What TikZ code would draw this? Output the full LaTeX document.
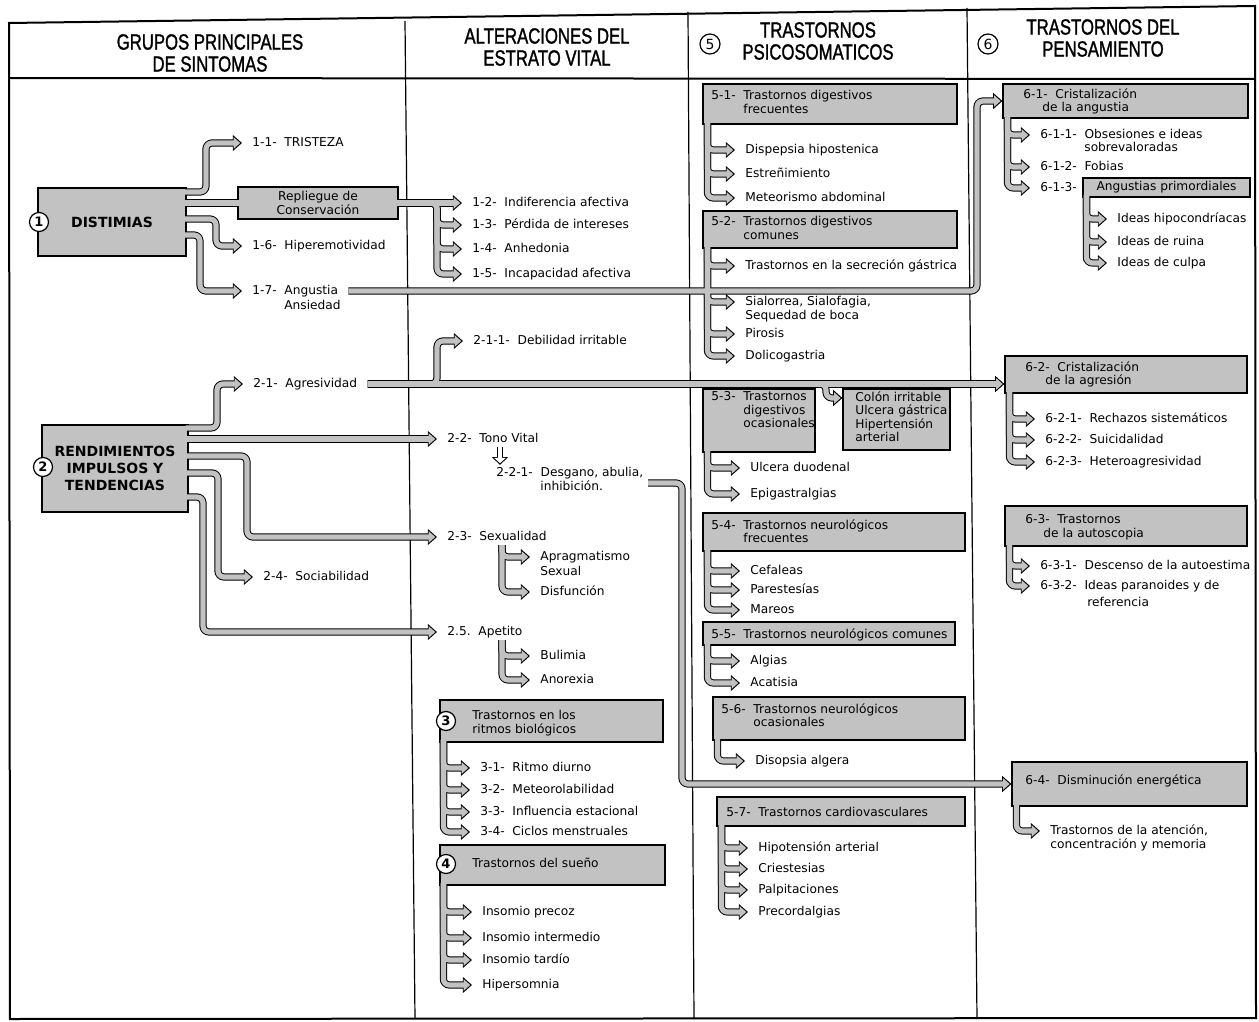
\documentclass[tikz,border=0pt]{standalone}
\usepackage{fontspec}
\setmainfont{DejaVu Sans}
\newfontfamily\hdfont{Liberation Sans}[FakeStretch=0.76,FakeBold=1.3]
\usetikzlibrary{arrows.meta,calc,fit}
\pgfdeclarelayer{back}
\pgfdeclarelayer{front}
\pgfsetlayers{back,main,front}
\definecolor{fillc}{gray}{0.76}
\newcommand\itemfont{\fontsize{6.1}{6.8}\selectfont}
\newcommand\headfont{\hdfont\fontsize{11}{11}\selectfont}
\newcommand\bigfont{\bfseries\fontsize{7}{8.5}\selectfont}
\newcommand\circfont{\bfseries\fontsize{6.5}{7}\selectfont}
\tikzset{
  item/.style={anchor=west, inner xsep=5pt, inner ysep=1pt, font=\itemfont, text height=4.6pt, text depth=1.2pt},
  plain/.style={anchor=west, inner sep=0pt, font=\itemfont, text height=4.6pt, text depth=1.2pt},
  lbl/.style={anchor=north west, inner sep=0pt, align=left, font=\itemfont},
  clbl/.style={inner sep=0pt, align=center},
  box/.style={draw=black, line width=0.6pt, fill=fillc, inner sep=0pt},
  circ/.style={circle, draw=black, line width=0.6pt, fill=white, minimum size=9.5pt, inner sep=0pt, font=\circfont},
  hcirc/.style={circ, minimum size=10pt, font=\fontsize{7}{8}\selectfont},
  head/.style={align=center, inner sep=0pt, font=\headfont},
  frameline/.style={line width=1pt, line cap=round},
  divline/.style={line width=0.6pt},
  outerpass/.style={
    fa/.style={draw=black, line width=3.6pt, rounded corners=3pt, -{Triangle[width=7.8pt,length=4.6pt]}},
    fl/.style={draw=black, line width=3.6pt, rounded corners=3pt},
    ha/.style={draw=black, line width=3.4pt, -{Triangle[width=7.8pt,length=3.8pt]}}},
  innerpass/.style={
    fa/.style={draw=fillc, line width=2.6pt, rounded corners=3pt, shorten >=0.85pt, -{Triangle[width=5.6pt,length=3.3pt]}},
    fl/.style={draw=fillc, line width=2.6pt, rounded corners=3pt},
    ha/.style={draw=white, line width=2.4pt, shorten >=0.8pt, -{Triangle[width=5.8pt,length=2.7pt]}}},
}
\newcommand\connectors{%
  % DISTIMIAS
  \draw[fa] ($(dist.east|-0,192)+(-3,0)$) -| (206,0|-t11.west) -- (t11.west);
  \draw[fl] ($(dist.east|-rep.west)+(-3,0)$) -- ($(rep.west)+(3,0)$);
  \draw[fa] ($(dist.east|-0,219)+(-3,0)$) -| (216,0|-i16.west) -- (i16.west);
  \draw[fa] ($(dist.east|-0,235)+(-3,0)$) -| (200,0|-i17.west) -- (i17.west);
  % Repliegue
  \draw[fa] ($(rep.east)+(-3,0)$) -- (t12.west);
  \foreach \n in {i13,i14,i15}{\draw[fa] ($(rep.east)+(-3,0)$) -| (437,0|-\n.west) -- (\n.west);}
  % long shafts
  \draw[fa] (i17.east) -| (977,0|-b61.west) -- (b61.west);
  \draw[fa] (i21.east) -- (b62.west|-i21.east);
  \draw[fa] (i21.east) -| (437,0|-i211.west) -- (i211.west);
  \draw[fa] (i21.east) -| (826,398) -- (colon.west|-0,398);
  \draw[fa] (s221) -| (682,0|-b64.west) -- (b64.west);
  % RENDIMIENTOS
  \draw[fa] ($(rend.east|-0,428)+(-3,0)$) -| (217,0|-i21.west) -- (i21.west);
  \draw[fa] ($(rend.east|-i22.west)+(-3,0)$) -- (i22.west);
  \draw[fa] ($(rend.east|-0,456)+(-3,0)$) -| (247,0|-i23.west) -- (i23.west);
  \draw[fa] ($(rend.east|-0,473)+(-3,0)$) -| (218,0|-i24.west) -- (i24.west);
  \draw[fa] ($(rend.east|-0,497)+(-3,0)$) -| (203,0|-i25.west) -- (i25.west);
  \draw[ha] (500,0|-i22.south) -- (500,0|-i221.north);
  \foreach \n in {i231,i232}{\draw[fa] (502,0|-i23.south) |- (\n.west);}
  \foreach \n in {i251,i252}{\draw[fa] (502,0|-i25.south) |- (\n.west);}
  % boxes 3 and 4
  \foreach \n in {i31,i32,i33,i34}{\draw[fa] ($(b3.south west)+(4,-3)$) |- (\n.west);}
  \foreach \n in {i41,i42,i43,i44}{\draw[fa] ($(b4.south west)+(4,-3)$) |- (\n.west);}
  % column 5
  \foreach \n in {i511,i512,i513}{\draw[fa] ($(b51.south west)+(5,-3)$) |- (\n.west);}
  \foreach \n in {i521,i522,i523,i524}{\draw[fa] ($(b52.south west)+(5,-3)$) |- (\n.west);}
  \foreach \n in {i531,i532}{\draw[fa] ($(b53.south west)+(5,-3)$) |- (\n.west);}
  \foreach \n in {i541,i542,i543}{\draw[fa] ($(b54.south west)+(5,-3)$) |- (\n.west);}
  \foreach \n in {i551,i552}{\draw[fa] ($(b55.south west)+(5,-3)$) |- (\n.west);}
  \draw[fa] ($(b56.south west)+(5,-3)$) |- (i561.west);
  \foreach \n in {i571,i572,i573,i574}{\draw[fa] ($(b57.south west)+(5,-3)$) |- (\n.west);}
  % column 6
  \foreach \n in {i611,i612,i613}{\draw[fa] ($(b61.south west)+(5,-3)$) |- (\n.west);}
  \foreach \n in {iap1,iap2,iap3}{\draw[fa] ($(bap.south west)+(4,-3)$) |- (\n.west);}
  \foreach \n in {i621,i622,i623}{\draw[fa] ($(b62.south west)+(5,-3)$) |- (\n.west);}
  \foreach \n in {i631,i632}{\draw[fa] ($(b63.south west)+(5,-3)$) |- (\n.west);}
  \draw[fa] ($(b64.south west)+(5,-3)$) |- (i641.west);
}
\begin{document}
\begin{tikzpicture}[x=0.5pt,y=-0.5pt]
\useasboundingbox (0,0) rectangle (1259,1022);
% headers
\node[head] (h1) at (210,53) {GRUPOS PRINCIPALES\\DE SINTOMAS};
\node[head] (h2) at (547,47) {ALTERACIONES DEL\\ESTRATO VITAL};
\node[head] (h3) at (818,41) {TRASTORNOS\\PSICOSOMATICOS};
\node[head] (h4) at (1103,38) {TRASTORNOS DEL\\PENSAMIENTO};
% column 1
\node[box, fit={(38,188) (186,256)}] (dist) {};
\node[clbl, font=\bigfont] (ldist) at (dist.center) {DISTIMIAS};
\node[item] (t11) at (242,143) {1-1-\ \ TRISTEZA};
\node[box, fit={(238,187) (398,219)}] (rep) {};
\node[clbl, font=\itemfont] (lrep) at (rep.center) {Repliegue de\\Conservación};
\node[item] (i16) at (242,246) {1-6-\ \ Hiperemotividad};
\node[item] (i17) at (242,291) {1-7-\ \ Angustia};
\node[plain] (i17b) at (284,306) {Ansiedad};
\node[box, fit={(42,425) (188,512)}] (rend) {};
\node[clbl, font=\bigfont] (lrend) at (rend.center) {RENDIMIENTOS\\IMPULSOS Y\\TENDENCIAS};
\node[item] (i21) at (243,384) {2-1-\ \ Agresividad};
\node[item] (i24) at (253,577) {2-4-\ \ Sociabilidad};
% column 2
\node[item] (t12) at (462,203) {1-2-\ \ Indiferencia afectiva};
\node[item] (i13) at (462,225) {1-3-\ \ Pérdida de intereses};
\node[item] (i14) at (462,249) {1-4-\ \ Anhedonia};
\node[item] (i15) at (462,274) {1-5-\ \ Incapacidad afectiva};
\node[item] (i211) at (463,341) {2-1-1-\ \ Debilidad irritable};
\node[item] (i22) at (437,439) {2-2-\ \ Tono Vital};
\node[item] (i221) at (486,473) {2-2-1-\ \ Desgano, abulia,};
\node[plain] (i221b) at (540,487) {inhibición.};
\coordinate (s221) at (648,483);
\node[item] (i23) at (437,537) {2-3-\ \ Sexualidad};
\node[item] (i231) at (530,557) {Apragmatismo};
\node[plain] (i231b) at (540,572) {Sexual};
\node[item] (i232) at (530,592) {Disfunción};
\node[item] (i25) at (437,632) {2.5.\ \ Apetito};
\node[item] (i251) at (530,656) {Bulimia};
\node[item] (i252) at (530,680) {Anorexia};
\node[box, fit={(440,700) (663,742)}] (b3) {};
\node[lbl] (l3) at (472,710) {Trastornos en los\\ritmos biológicos};
\node[item] (i31) at (470,768) {3-1-\ \ Ritmo diurno};
\node[item] (i32) at (470,790) {3-2-\ \ Meteorolabilidad};
\node[item] (i33) at (470,812) {3-3-\ \ Influencia estacional};
\node[item] (i34) at (470,832) {3-4-\ \ Ciclos menstruales};
\node[box, fit={(440,845) (665,885)}] (b4) {};
\node[lbl] (l4) at (472,858) {Trastornos del sueño};
\node[item] (i41) at (472,912) {Insomio precoz};
\node[item] (i42) at (472,938) {Insomio intermedio};
\node[item] (i43) at (472,960) {Insomio tardío};
\node[item] (i44) at (472,985) {Hipersomnia};
% column 3
\node[box, fit={(703,84) (957,124)}] (b51) {};
\node[lbl] (l51) at (711,90) {5-1-\ \ Trastornos digestivos\\\phantom{5-1-\ \ }frecuentes};
\node[item] (i511) at (735,150) {Dispepsia hipostenica};
\node[item] (i512) at (735,174) {Estreñimiento};
\node[item] (i513) at (735,198) {Meteorismo abdominal};
\node[box, fit={(703,211) (957,248)}] (b52) {};
\node[lbl] (l52) at (711,216) {5-2-\ \ Trastornos digestivos\\\phantom{5-2-\ \ }comunes};
\node[item] (i521) at (735,266) {Trastornos en la secreción gástrica};
\node[item] (i522) at (735,302) {Sialorrea, Sialofagia,};
\node[plain] (i522b) at (745,316) {Sequedad de boca};
\node[item] (i523) at (735,334) {Pirosis};
\node[item] (i524) at (735,356) {Dolicogastria};
\node[box, fit={(703,389) (815,452)}] (b53) {};
\node[lbl] (l53) at (711,391) {5-3-\ \ Trastornos\\\phantom{5-3-\ \ }digestivos\\\phantom{5-3-\ \ }ocasionales};
\node[box, fit={(843,389) (950,450)}] (colon) {};
\node[lbl] (lcol) at (855,391) {Colón irritable\\Ulcera gástrica\\Hipertensión\\arterial};
\node[item] (i531) at (740,468) {Ulcera duodenal};
\node[item] (i532) at (740,494) {Epigastralgias};
\node[box, fit={(703,513) (965,551)}] (b54) {};
\node[lbl] (l54) at (711,519) {5-4-\ \ Trastornos neurológicos\\\phantom{5-4-\ \ }frecuentes};
\node[item] (i541) at (740,571) {Cefaleas};
\node[item] (i542) at (740,590) {Parestesías};
\node[item] (i543) at (740,610) {Mareos};
\node[box, fit={(703,622) (955,645)}] (b55) {};
\node[lbl] (l55) at (711,628) {5-5-\ \ Trastornos neurológicos comunes};
\node[item] (i551) at (740,661) {Algias};
\node[item] (i552) at (740,683) {Acatisia};
\node[box, fit={(713,697) (965,740)}] (b56) {};
\node[lbl] (l56) at (721,703) {5-6-\ \ Trastornos neurológicos\\\phantom{5-6-\ \ }ocasionales};
\node[item] (i561) at (745,761) {Disopsia algera};
\node[box, fit={(717,797) (965,826)}] (b57) {};
\node[lbl] (l57) at (726,807) {5-7-\ \ Trastornos cardiovasculares};
\node[item] (i571) at (748,848) {Hipotensión arterial};
\node[item] (i572) at (748,869) {Criestesias};
\node[item] (i573) at (748,890) {Palpitaciones};
\node[item] (i574) at (748,912) {Precordalgias};
% column 4
\node[box, fit={(1003,84) (1248,118)}] (b61) {};
\node[lbl] (l61) at (1023,88) {6-1-\ \ Cristalización\\\hspace*{9.5pt}de la angustia};
\node[item] (i611) at (1030,135) {6-1-1-\ \ Obsesiones e ideas};
\node[plain] (i611b) at (1084,148) {sobrevaloradas};
\node[item] (i612) at (1030,167) {6-1-2-\ \ Fobias};
\node[item] (i613) at (1030,188) {6-1-3-};
\node[box, fit={(1083,178) (1250,197)}] (bap) {};
\node[clbl, font=\itemfont] (lap) at (bap.center) {Angustias primordiales};
\node[item] (iap1) at (1107,219) {Ideas hipocondríacas};
\node[item] (iap2) at (1107,242) {Ideas de ruina};
\node[item] (iap3) at (1107,263) {Ideas de culpa};
\node[box, fit={(1005,356) (1247,393)}] (b62) {};
\node[lbl] (l62) at (1025,361) {6-2-\ \ Cristalización\\\hspace*{10pt}de la agresión};
\node[item] (i621) at (1035,419) {6-2-1-\ \ Rechazos sistemáticos};
\node[item] (i622) at (1035,440) {6-2-2-\ \ Suicidalidad};
\node[item] (i623) at (1035,462) {6-2-3-\ \ Heteroagresividad};
\node[box, fit={(1005,506) (1247,546)}] (b63) {};
\node[lbl] (l63) at (1025,514) {6-3-\ \ Trastornos\\\hspace*{9pt}de la autoscopia};
\node[item] (i631) at (1030,566) {6-3-1-\ \ Descenso de la autoestima};
\node[item] (i632) at (1030,586) {6-3-2-\ \ Ideas paranoides y de};
\node[plain] (i632b) at (1087,603) {referencia};
\node[box, fit={(1012,762) (1247,806)}] (b64) {};
\node[lbl] (l64) at (1025,774) {6-4-\ \ Disminución energética};
\node[item] (i641) at (1040,831) {Trastornos de la atención,};
\node[plain] (i641b) at (1050,845) {concentración y memoria};
% frame and connectors
\begin{pgfonlayer}{back}
  \fill[white] (0,0) rectangle (1259,1022);
  \draw[frameline] (9,23) -- (1255,6) -- (1256,1018) -- (10,1019) -- cycle;
  \draw[frameline] (9,78) -- (1255,79);
  \draw[divline] (405,21) -- (415,1019);
  \draw[divline] (688,12) -- (694,1019);
  \draw[divline] (967,8) -- (977,1019);
  \begin{scope}[outerpass]\connectors\end{scope}
\end{pgfonlayer}
\begin{pgfonlayer}{front}
  \begin{scope}[innerpass]\connectors\end{scope}
  \node[circ] (c1) at (39,222) {1};
  \node[circ] (c2) at (43,467) {2};
  \node[circ] (c3) at (446,721) {3};
  \node[circ] (c4) at (446,864) {4};
  \node[hcirc] (c5) at (710,44) {5};
  \node[hcirc] (c6) at (988,44) {6};
\end{pgfonlayer}
\end{tikzpicture}
\end{document}
